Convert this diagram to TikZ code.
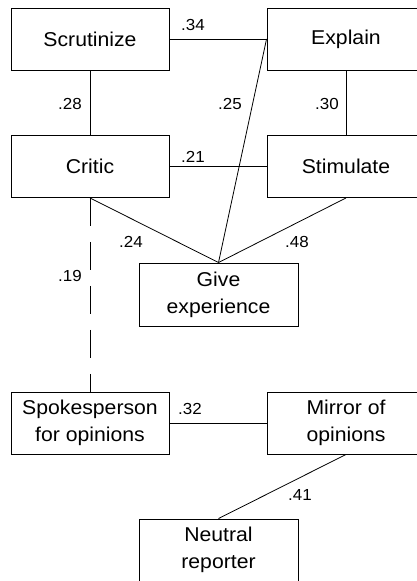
\documentclass[tikz,border=0pt]{standalone}
\usepackage{fontspec}
\setmainfont{Liberation Sans}[FakeStretch=1.06]
\begin{document}
\begin{tikzpicture}[x=1pt,y=-1pt,
  box/.style={draw, line width=0.9pt, rectangle, minimum width=158pt, minimum height=62pt, inner sep=0pt, align=center, font=\fontsize{20}{27}\selectfont},
  conn/.style={line width=0.8pt},
  lbl/.style={inner sep=0pt, font=\fontsize{16}{18}\selectfont}]
\useasboundingbox (0,0) rectangle (417,581);
\clip (0,0) rectangle (417,581);
\node[box] (scr) at (90,39) {Scrutinize};
\node[box] (exp) at (346,39) {Explain};
\node[box] (cri) at (90,166.5) {Critic};
\node[box] (sti) at (346,166.5) {Stimulate};
\node[box, minimum width=159pt, minimum height=63pt] (giv) at (218.5,294.5) {Give\\experience};
\node[box] (spo) at (90,423) {Spokesperson\\for opinions};
\node[box] (mir) at (346,423) {Mirror of\\opinions};
\node[box, minimum width=159pt, minimum height=80pt] (neu) at (218.5,559) {};
\node[align=center, font=\fontsize{20}{27}\selectfont, inner sep=0pt] (neutxt) at (218.5,550) {Neutral\\reporter};
\draw[conn] (scr.east) -- (exp.west);
\draw[conn] (scr.south) -- (cri.north);
\draw[conn] (exp.south) -- (sti.north);
\draw[conn] (cri.east) -- (sti.west);
\draw[conn] (exp.west) -- (giv.north);
\draw[conn] (cri.south) -- (giv.north);
\draw[conn] (sti.south) -- (giv.north);
\draw[conn, dash pattern=on 28pt off 16pt] (cri.south) -- (spo.north);
\draw[conn] (spo.east) -- (mir.west);
\draw[conn] (mir.south) -- (neu.north);
\node[lbl] (l34) at (193,25) {.34};
\node[lbl] (l28) at (70,104) {.28};
\node[lbl] (l25) at (230,104) {.25};
\node[lbl] (l30) at (327,104) {.30};
\node[lbl] (l21) at (193,157) {.21};
\node[lbl] (l24) at (131,242) {.24};
\node[lbl] (l48) at (297,242) {.48};
\node[lbl] (l19) at (70,276) {.19};
\node[lbl] (l32) at (190,409) {.32};
\node[lbl] (l41) at (300,495) {.41};
\end{tikzpicture}
\end{document}
